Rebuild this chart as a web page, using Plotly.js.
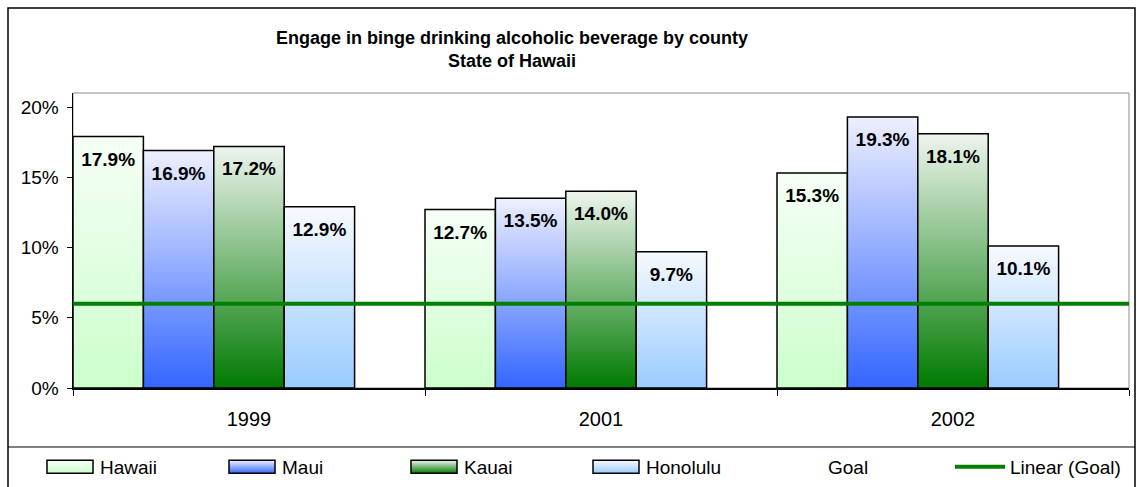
<!DOCTYPE html>
<html><head><meta charset="utf-8">
<script src="https://cdn.plot.ly/plotly-3.0.1.min.js"></script>
<style>html,body{margin:0;padding:0;background:#fff;} #chart{width:1137px;height:487px;}</style>
</head><body><div id="chart"></div>
<script>
// ---- data ----
const years = ['1999', '2001', '2002'];
const hawaii = [0.179, 0.127, 0.153];
const maui = [0.169, 0.135, 0.193];
const kauai = [0.172, 0.140, 0.181];
const honolulu = [0.129, 0.097, 0.101];
const goal = [0.06, 0.06, 0.06];
const countyNames = ['Hawaii', 'Maui', 'Kauai', 'Honolulu'];
const goalName = 'Goal';
const trendName = 'Linear (Goal)';
const yTickVals = [0, 0.05, 0.10, 0.15, 0.20];

// ---- styles ----
const baseColors = ['#CCFFCC', '#3366FF', '#007A00', '#99CCFF'];
const topColors = ['#F6FFF6', '#EEF0FF', '#EEF5EE', '#F7FAFF'];
const W = 1137, H = 487, L = 73, R = 8, T = 93, B = 99;
const PW = W - L - R, PH = H - T - B;
const px2x = p => (p - L) / PW;
const px2y = p => (H - B - p) / PH;
const FONT = '"Liberation Sans", Arial, Helvetica, sans-serif';

const seriesVals = [hawaii, maui, kauai, honolulu];
const traces = seriesVals.map((vals, i) => ({
  type: 'bar', name: countyNames[i], x: years, y: vals,
  marker: {color: baseColors[i], line: {color: '#000', width: 1.5}},
  text: vals.map(v => (v * 100).toFixed(1) + '%'),
  textposition: 'inside', insidetextanchor: 'end', textangle: 0,
  textfont: {family: FONT, size: 19, color: '#000', weight: 'bold'},
  constraintext: 'none', cliponaxis: false, hoverinfo: 'skip'
}));
traces.push({
  type: 'bar', name: goalName, x: years, y: goal,
  marker: {color: 'rgba(0,0,0,0)', line: {width: 0}}, hoverinfo: 'skip'
});
// linear trendline of goal (Excel x = 1..n), extended half a category each side
const gx = goal.map((_, i) => i + 1);
const mx = gx.reduce((a, b) => a + b, 0) / gx.length;
const my = goal.reduce((a, b) => a + b, 0) / goal.length;
let sxy = 0, sxx = 0;
gx.forEach((x, i) => { sxy += (x - mx) * (goal[i] - my); sxx += (x - mx) * (x - mx); });
const slope = sxx ? sxy / sxx : 0, icpt = my - slope * mx;
const tx = [0.5, goal.length + 0.5];
traces.push({
  type: 'scatter', mode: 'lines', name: trendName, xaxis: 'x2', yaxis: 'y',
  x: tx.map(v => v - 1), y: tx.map(v => icpt + slope * v),
  line: {color: '#008000', width: 4}, hoverinfo: 'skip'
});

const layout = {
  width: W, height: H,
  margin: {l: L, r: R, t: T, b: B, pad: 0, autoexpand: false},
  paper_bgcolor: '#fff', plot_bgcolor: '#fff',
  font: {family: FONT, size: 17, color: '#000'},
  title: {
    text: 'Engage in binge drinking alcoholic beverage by county<br>State of Hawaii',
    font: {family: FONT, size: 18, weight: 'bold', color: '#000'},
    x: 512 / W, xanchor: 'center', xref: 'container',
    y: 1 - 44 / H, yanchor: 'top', yref: 'container'
  },
  barmode: 'group', bargap: 0, bargroupgap: 0,
  showlegend: true,
  xaxis: {
    type: 'category', tickson: 'boundaries', ticks: 'outside', ticklen: 6,
    tickcolor: '#000', tickwidth: 1, showline: true, linecolor: '#000', linewidth: 1.5,
    showgrid: false, zeroline: false, tickfont: {family: FONT, size: 20}, fixedrange: true,
    ticklabelstandoff: 12
  },
  xaxis2: {overlaying: 'x', anchor: 'y', range: [-0.5, goal.length - 0.5], visible: false, fixedrange: true},
  yaxis: {
    range: [0, 0.21], tickvals: yTickVals, tickformat: '.0%', ticks: 'outside', ticklen: 5,
    tickcolor: '#000', tickwidth: 1, showline: true, linecolor: '#000', linewidth: 1.5,
    showgrid: false, zeroline: false, tickfont: {family: FONT, size: 19}, fixedrange: true,
    ticklabelstandoff: 4
  },
  legend: {
    orientation: 'h', x: px2x(40), y: px2y(467), xanchor: 'left', yanchor: 'middle',
    itemwidth: 50, entrywidth: 117, entrywidthmode: 'pixels',
    font: {family: FONT, size: 19, color: '#000'}, traceorder: 'normal',
    bgcolor: 'rgba(0,0,0,0)', borderwidth: 0
  },
  shapes: [
    {type: 'rect', xref: 'paper', yref: 'paper', x0: 0, x1: 1, y0: 0, y1: 1,
     line: {color: '#8c8c8c', width: 1}, layer: 'below'},
    {type: 'rect', xref: 'paper', yref: 'paper', x0: px2x(8), x1: px2x(1135), y0: px2y(495), y1: px2y(8),
     line: {color: '#000', width: 1.5}, layer: 'above'},
    {type: 'line', xref: 'paper', yref: 'paper', x0: px2x(8), x1: px2x(1135), y0: px2y(447), y1: px2y(447),
     line: {color: '#000', width: 1}, layer: 'above'}
  ]
};

const gd = document.getElementById('chart');
Plotly.newPlot(gd, traces, layout, {staticPlot: true, displayModeBar: false}).then(() => {
  const svg = gd.querySelector('svg.main-svg');
  const NS = 'http://www.w3.org/2000/svg';
  let defs = svg.querySelector('defs');
  if (!defs) { defs = document.createElementNS(NS, 'defs'); svg.insertBefore(defs, svg.firstChild); }
  baseColors.forEach((c, i) => {
    const g = document.createElementNS(NS, 'linearGradient');
    g.setAttribute('id', 'barGrad' + i);
    g.setAttribute('x1', '0'); g.setAttribute('y1', '1'); g.setAttribute('x2', '0'); g.setAttribute('y2', '0');
    [[0, c], [1, topColors[i]]].forEach(([o, col]) => {
      const s = document.createElementNS(NS, 'stop');
      s.setAttribute('offset', o); s.setAttribute('stop-color', col);
      g.appendChild(s);
    });
    defs.appendChild(g);
  });
  const barTraces = gd.querySelectorAll('.barlayer .trace.bars');
  barTraces.forEach((tr, i) => {
    if (i >= baseColors.length) return;
    tr.querySelectorAll('.point path').forEach(p => { p.style.fill = 'url(#barGrad' + i + ')'; });
    tr.querySelectorAll('text.bartext').forEach(t => {
      t.setAttribute('transform', 'translate(0,9) ' + (t.getAttribute('transform') || ''));
    });
  });
  const legendTraces = gd.querySelectorAll('.legend .traces');
  legendTraces.forEach((tr, i) => {
    if (i >= baseColors.length) return;
    tr.querySelectorAll('.legendpoints path').forEach(bp => {
      bp.setAttribute('d', 'M23,6.5H-23V-6.5H23Z');
      bp.style.fill = 'url(#barGrad' + i + ')';
      bp.style.stroke = '#000';
      bp.style.strokeWidth = '1.5px';
    });
  });
});
</script></body></html>
